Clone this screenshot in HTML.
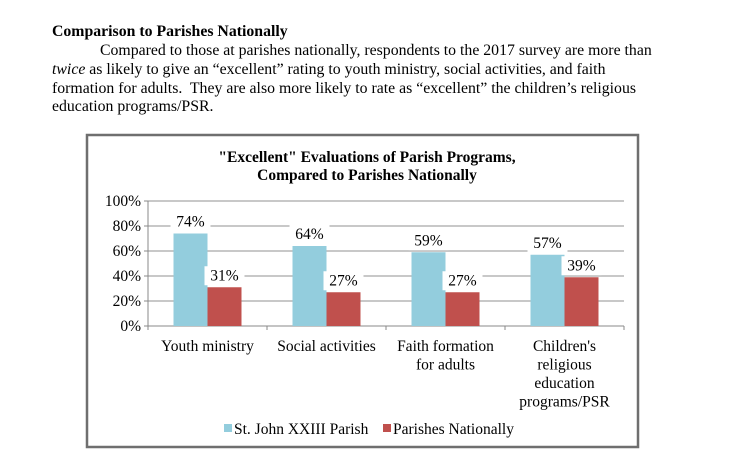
<!DOCTYPE html>
<html><head><meta charset="utf-8"><style>
body{margin:0;width:735px;height:475px;background:#fff;font-family:"Liberation Serif","Times New Roman",Times,serif;position:relative;overflow:hidden}
.t{position:absolute;left:52px;font-size:15.8px;color:#000;white-space:nowrap}
</style></head><body>
<div class="t" style="top:23px;font-weight:bold">Comparison to Parishes Nationally</div>
<div class="t" style="top:42px;left:100px">Compared to those at parishes nationally, respondents to the 2017 survey are more than</div>
<div class="t" style="top:61px"><i>twice</i> as likely to give an “excellent” rating to youth ministry, social activities, and faith</div>
<div class="t" style="top:80px">formation for adults.&nbsp; They are also more likely to rate as “excellent” the children’s religious</div>
<div class="t" style="top:98px">education programs/PSR.</div>
<svg id="c" width="735" height="475" style="position:absolute;left:0;top:0;font-family:'Liberation Serif','Times New Roman',Times,serif"></svg>
<script>
const categories=[["Youth ministry"],["Social activities"],["Faith formation","for adults"],["Children's","religious","education","programs/PSR"]];
const parishValues=[74,64,59,57];
const nationalValues=[31,27,27,39];
const yTicks=[0,20,40,60,80,100];
const ns="http://www.w3.org/2000/svg";
const svg=document.getElementById('c');
const FS=15.5;
function mk(t,a,p){const e=document.createElementNS(ns,t);for(const k in a)e.setAttribute(k,a[k]);(p||svg).appendChild(e);return e;}
const x0=148,x1=624,y0=326,y100=201;
const y=v=>y0-(v/100)*(y0-y100);
const bw=(x1-x0)/categories.length;
const xc=i=>x0+bw*(i+0.5);
let r=mk('rect',{x:87,y:135,width:551,height:312,fill:'#fff',stroke:'#6f6f6f','stroke-width':2.5});


let tt=mk('text',{x:367,y:162,'text-anchor':'middle','font-size':FS,'font-weight':'bold'});


tt.textContent='"Excellent" Evaluations of Parish Programs,';
let tt2=mk('text',{x:367,y:180,'text-anchor':'middle','font-size':FS,'font-weight':'bold'});


tt2.textContent='Compared to Parishes Nationally';
yTicks.forEach(v=>{
  if(v>0){const g=mk('line',{x1:x0,x2:x1,y1:y(v),y2:y(v),stroke:'#a6a6a6','stroke-width':1.2});
  
  }
  const t=mk('text',{x:x0-7,y:y(v)+5,'text-anchor':'end','font-size':FS});
  
  
  t.textContent=v+'%';
  mk('line',{x1:x0-4,x2:x0,y1:y(v),y2:y(v),stroke:'#888'});
});
mk('line',{x1:x0,x2:x0,y1:y100,y2:y0,stroke:'#888'});
mk('line',{x1:x0,x2:x1,y1:y0,y2:y0,stroke:'#888'});
for(let i=0;i<=categories.length;i++)mk('line',{x1:x0+bw*i,x2:x0+bw*i,y1:y0,y2:y0+4,stroke:'#888'});
function lbl(cx,v,name){
  const ty=y(v)-7;
  mk('rect',{x:cx-20,y:ty-14,width:40,height:19,fill:'#fff'});
  const t=mk('text',{x:cx,y:ty,'text-anchor':'middle','font-size':FS});
  
  
  t.textContent=v+'%';
}
categories.forEach((c,i)=>{
  const cx=xc(i);
  const b1=mk('rect',{x:cx-34,y:y(parishValues[i]),width:34,height:y0-y(parishValues[i]),fill:'#93cddd'});
  
  
  const b2=mk('rect',{x:cx,y:y(nationalValues[i]),width:34,height:y0-y(nationalValues[i]),fill:'#c0504d'});
  
  
});
categories.forEach((c,i)=>{
  const cx=xc(i);
  lbl(cx-17,parishValues[i],'value-label-parish-'+i);
  lbl(cx+17,nationalValues[i],'value-label-national-'+i);
  c.forEach((line,j)=>{
    const t=mk('text',{x:cx,y:y0+25+j*18.5,'text-anchor':'middle','font-size':FS});
    
    
    t.textContent=line;
  });
});
const leg=[["St. John XXIII Parish","#93cddd",224],["Parishes Nationally","#c0504d",383]];
leg.forEach((l,i)=>{
  const s=mk('rect',{x:l[2],y:424,width:8,height:8,fill:l[1]});
  
  
  const t=mk('text',{x:l[2]+10,y:434,'font-size':FS});
  
  
  t.textContent=l[0];
});
</script>
</body></html>
